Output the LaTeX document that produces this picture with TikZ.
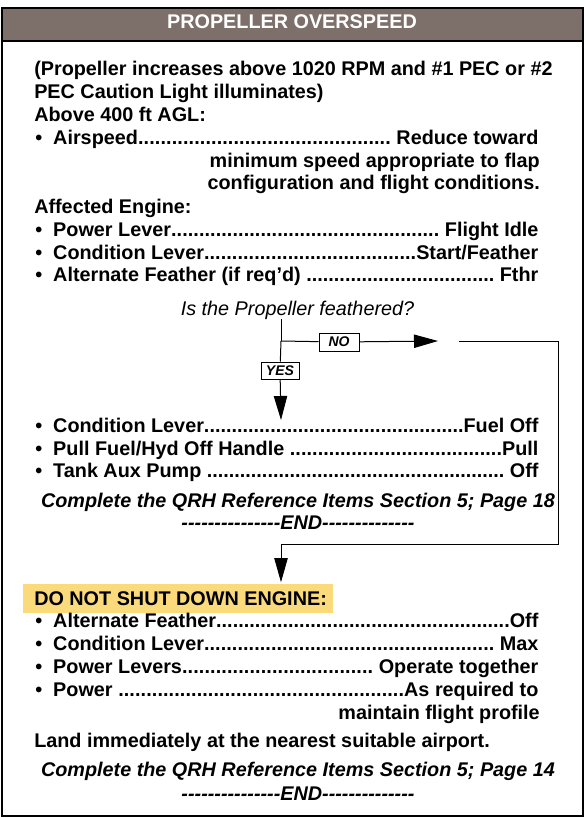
\documentclass[tikz,border=0pt]{standalone}
\usepackage{fontspec}
\setmainfont{Liberation Sans}[Ligatures=TeXOff]
\usetikzlibrary{arrows.meta}
\definecolor{hdrbrown}{RGB}{125,111,105}
\definecolor{warnyellow}{RGB}{251,218,124}
\newlength\pxu \setlength\pxu{0.75pt}
\newcommand{\bodyfont}{\fontsize{14.85}{18}\selectfont}
\newcommand{\lead}{\xleaders\hbox{.}\hfill}
\newcommand{\chkrow}[1]{\hbox to 503\pxu{\hbox to 18\pxu{\textbullet\hss}#1}}

\begin{document}
\begin{tikzpicture}[x=0.75pt,y=-0.75pt,
  txt/.style={anchor=base west,inner sep=0pt,font=\bodyfont\bfseries},
  txtr/.style={txt,anchor=base east},
  txtc/.style={txt,anchor=base},
  tagbox/.style={draw,line width=0.75pt,fill=white,inner sep=0pt,
                 minimum width=40\pxu,minimum height=18\pxu,
                 font=\fontsize{10.5}{12}\selectfont\bfseries\itshape},
  flow/.style={line width=0.75pt},
  tip/.style={-{Triangle[length=18pt,width=10pt]}}]
  \useasboundingbox (0,0) rectangle (586,818);
  % frame and header
  \fill[hdrbrown] (2,8) rectangle (583,41);
  \draw[line width=1.1pt] (2,8) rectangle (583,816);
  \draw[line width=1.1pt] (2,41) -- (583,41);
  \node[txtc,text=white] (title) at (292,28) {PROPELLER OVERSPEED};

  % conditions
  \node[txt] (cond1) at (34,75) {(Propeller increases above 1020 RPM and \#1 PEC or \#2};
  \node[txt] (cond2) at (34,98) {PEC Caution Light illuminates)};
  \node[txt] (above) at (34,121) {Above 400 ft AGL:};
  \node[txt] (airspd) at (35,144) {\chkrow{Airspeed\lead\ Reduce toward}};
  \node[txtr] (airspd2) at (540,167) {minimum speed appropriate to flap};
  \node[txtr] (airspd3) at (540,189) {configuration and flight conditions.};

  % affected engine
  \node[txt] (affected) at (34,213) {Affected Engine:};
  \node[txt] (pwrlvr) at (35,236) {\chkrow{Power Lever\lead\ Flight Idle}};
  \node[txt] (condlvr) at (35,259) {\chkrow{Condition Lever\lead Start/Feather}};
  \node[txt] (altfthr) at (35,281) {\chkrow{Alternate Feather (if req’d) \lead\ Fthr}};

  % decision
  \node[txtc,font=\bodyfont\itshape] (quest) at (297.5,315) {Is the Propeller feathered?};
  \coordinate (split) at (281,341);
  \node[tagbox] (no) at (339,342) {NO};
  \node[tagbox,minimum width=38\pxu,minimum height=17\pxu] (yes) at (280,370.5) {YES};
  \coordinate (yestip) at (281,420);
  \coordinate (notip) at (438,341);
  \coordinate (loopstart) at (459,341);
  \coordinate (loopcorner) at (558,544);

  % feathered
  \node[txt] (fuelcut) at (35,432) {\chkrow{Condition Lever\lead Fuel Off}};
  \node[txt] (hydoff) at (35,455) {\chkrow{Pull Fuel/Hyd Off Handle \lead Pull}};
  \node[txt] (auxpump) at (35,477) {\chkrow{Tank Aux Pump \lead\ Off}};
  \node[txtc,font=\bodyfont\bfseries\itshape] (qrh18) at (298,507)
        {Complete the QRH Reference Items Section 5; Page 18};
  \node[txtc,font=\bodyfont\bfseries\itshape] (end1) at (298,529)
        {---------------END--------------};

  % not feathered
  \node[fill=warnyellow,anchor=west,inner sep=0pt,minimum height=29\pxu,font=\bodyfont\bfseries]
        (warn) at (23,598.5) {\hbox to 310\pxu{\hspace{11\pxu}DO NOT SHUT DOWN ENGINE:\hss}};
  \node[txt] (altoff) at (35,627) {\chkrow{Alternate Feather\lead Off}};
  \node[txt] (condmax) at (35,650) {\chkrow{Condition Lever\lead\ Max}};
  \node[txt] (pwrlvrs) at (35,673) {\chkrow{Power Levers\lead\ Operate together}};
  \node[txt] (power) at (35,696) {\chkrow{Power \lead As required to}};
  \node[txtr] (power2) at (540,719) {maintain flight profile};
  \node[txt] (land) at (34,747) {Land immediately at the nearest suitable airport.};
  \node[txtc,font=\bodyfont\bfseries\itshape] (qrh14) at (298,776)
        {Complete the QRH Reference Items Section 5; Page 14};
  \node[txtc,font=\bodyfont\bfseries\itshape] (end2) at (298,800)
        {---------------END--------------};

  % connectors
  \draw[flow] (quest.south -| split) -- (split);
  \draw[flow] (split) -- (yes);
  \draw[flow,tip] (yes) -- (yestip);
  \draw[flow] (split) -- (no);
  \draw[flow,tip] (no) -- (notip);
  \draw[flow,tip,shorten >=1.5\pxu] (loopstart) -| (loopcorner) -| (warn.north -| split);
\end{tikzpicture}
\end{document}
